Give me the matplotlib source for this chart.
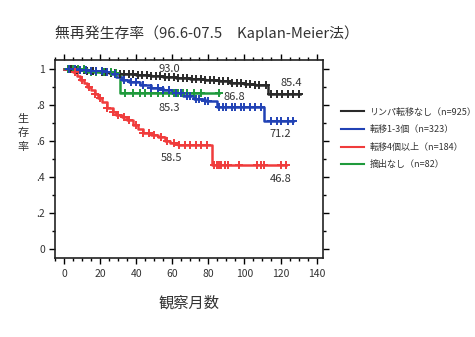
import numpy as np
import matplotlib
matplotlib.use("Agg")
from matplotlib import pyplot as plt
from matplotlib.lines import Line2D
from matplotlib.ticker import MultipleLocator, FuncFormatter

plt.rcParams['font.family'] = ['Noto Sans CJK JP', 'DejaVu Sans']

# step points (months, survival) and censor times
black_t = [0, 5, 12, 20, 25, 30, 40, 48, 55, 62, 70, 78, 86, 92, 100, 106, 113]
black_s = [1.0, .995, .99, .985, .977, .97, .965, .96, .955, .948, .942, .936, .93, .92, .915, .91, .86]
black_end = 131
black_cens = [2, 4, 7, 9, 11, 13, 16, 18, 21, 23, 26, 28, 31, 33, 36, 38, 41, 43, 46, 48, 51,
              53, 56, 58, 61, 63, 66, 68, 71, 73, 76, 78, 81, 83, 86, 88, 91, 93, 96, 98,
              101, 103, 106, 108, 112, 115, 118, 121, 124, 127, 130]

blue_t = [0, 8, 15, 22, 26, 29, 32, 36, 42, 48, 55, 60, 66, 72, 78, 85, 111]
blue_s = [1.0, .995, .99, .985, .97, .955, .94, .925, .91, .895, .88, .865, .85, .835, .82, .79, .712]
blue_end = 127
blue_cens = [3, 6, 9, 12, 15, 18, 21, 24, 28, 33, 37, 40, 44, 48, 52, 55, 58, 62, 65, 68, 70,
             73, 75, 78, 80, 86, 88, 90, 93, 95, 98, 100, 103, 106, 109, 115, 118, 120, 124, 127]

red_t = [0, 5, 7, 9, 11, 13, 15, 17, 19, 21, 24, 27, 29, 32, 35, 38, 41, 44, 48, 52, 56, 59, 63, 67, 82]
red_s = [1.0, .98, .96, .94, .92, .90, .88, .86, .84, .815, .785, .76, .745, .73, .715, .69, .665, .643,
         .635, .62, .60, .59, .58, .578, .468]
red_end = 123
red_cens = [6, 10, 14, 17, 20, 24, 27, 30, 33, 36, 40, 44, 47, 50, 54, 57, 61, 64, 67, 70, 73, 76,
            79, 83, 85, 86, 87, 89, 91, 97, 107, 109, 111, 120, 123]

green_t = [0, 13, 28, 31]
green_s = [1.0, .98, .975, .868]
green_end = 86
green_cens = [2, 5, 8, 11, 15, 18, 22, 26, 29, 34, 38, 42, 45, 48, 52, 55, 58, 61, 63, 66,
              68, 72, 76, 86]

labels = ["リンパ転移なし（n=925）", "転移1-3個（n=323）", "転移4個以上（n=184）", "摘出なし（n=82）"]
colors = ["#2a2a2a", "#2142b5", "#f03c3c", "#1f9a3c"]

pct_text = ["93.0", "85.4", "85.3", "71.2", "58.5", "46.8", "86.8"]
pct_x = [58.6, 126, 58.6, 120, 59.5, 120, 94.5]
pct_y = [1.0, .922, .783, .639, .506, .387, .846]

fig = plt.figure(figsize=(4.75, 3.37), dpi=100)
ax = fig.add_axes([0.1158, 0.2344, 0.564, 0.588])


def km(t, s, end, cens, c):
    tt = list(t) + [end]
    ss = list(s) + [s[-1]]
    ax.step(tt, ss, where='post', color=c, lw=1.8, zorder=2)
    cy = [s[np.searchsorted(t, x, side='right') - 1] for x in cens]
    ax.plot(cens, cy, ls='none', marker='+', ms=5.5, mew=1.4, color=c, zorder=3)


km(black_t, black_s, black_end, black_cens, colors[0])
km(green_t, green_s, green_end, green_cens, colors[3])
km(blue_t, blue_s, blue_end, blue_cens, colors[1])
km(red_t, red_s, red_end, red_cens, colors[2])

for s, x, y in zip(pct_text, pct_x, pct_y):
    ax.text(x, y, s, ha='center', va='center', fontsize=8, color='#333333')

ax.set_xlim(-5, 143.5)
ax.set_ylim(-0.05, 1.05)
ax.xaxis.set_major_locator(MultipleLocator(20))
ax.xaxis.set_minor_locator(MultipleLocator(5))
ax.yaxis.set_major_locator(MultipleLocator(0.2))
ax.yaxis.set_minor_locator(MultipleLocator(0.1))
ax.yaxis.set_major_formatter(FuncFormatter(lambda v, p: ("%.1f" % v).lstrip('0') if 0 < v < 1 else "%d" % round(v)))
ax.tick_params(which='both', direction='out', top=True, right=True, labelsize=7.5,
               labelcolor='#333333', width=1)
ax.tick_params(which='major', length=4)
ax.tick_params(axis='y', which='major', pad=3)
ax.tick_params(axis='x', which='major', pad=4)
ax.tick_params(which='minor', length=2.5)
for sp in ax.spines.values():
    sp.set_linewidth(1.2)
    sp.set_color('#222222')

fig.text(0.116, 0.902, "無再発生存率（96.6-07.5　Kaplan-Meier法）", fontsize=10.7,
         color='#333333', va='center', ha='left')
fig.text(0.048, 0.606, "生\n存\n率", fontsize=8, color='#333333', ha='center', va='center',
         linespacing=1.5)
fig.text(0.397, 0.10, "観察月数", fontsize=11, color='#333333', ha='center', va='center')

handles = [Line2D([], [], color=c, lw=1.5) for c in colors]
fig.legend(handles, labels, loc='upper left', bbox_to_anchor=(0.7, 0.705), frameon=False,
           fontsize=6.5, handlelength=2.6, labelspacing=0.95, handletextpad=0.6,
           labelcolor='#333333')

fig.savefig("out.png", dpi=100)
